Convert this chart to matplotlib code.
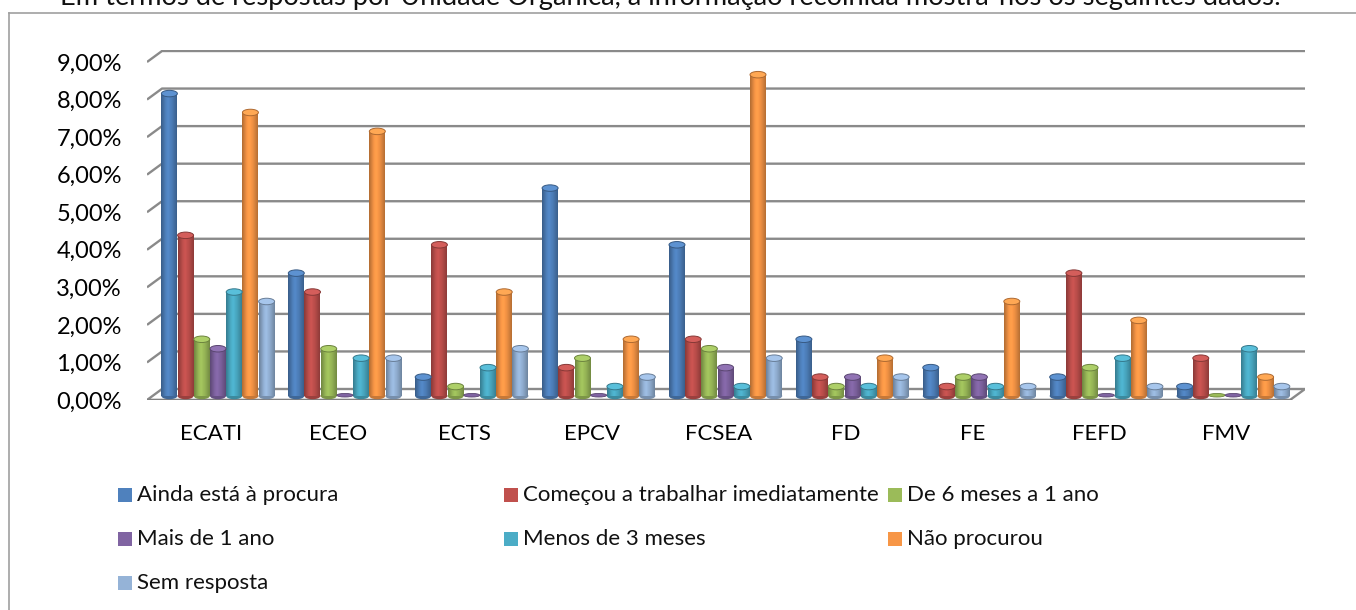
import numpy as np
import matplotlib
matplotlib.use("Agg")
import matplotlib.pyplot as plt
from matplotlib.patches import Ellipse, Rectangle, Polygon
from matplotlib.lines import Line2D
from matplotlib.colors import to_rgb

# =========================
# DATA (percent of answers)
# =========================
categories = ["ECATI", "ECEO", "ECTS", "EPCV", "FCSEA", "FD", "FE", "FEFD", "FMV"]
series_names = ["Ainda está à procura", "Começou a trabalhar imediatamente",
                "De 6 meses a 1 ano", "Mais de 1 ano", "Menos de 3 meses",
                "Não procurou", "Sem resposta"]
ainda = [8.0, 3.25, 0.5, 5.5, 4.0, 1.5, 0.75, 0.5, 0.25]
comecou = [4.25, 2.75, 4.0, 0.75, 1.5, 0.5, 0.25, 3.25, 1.0]
de6 = [1.5, 1.25, 0.25, 1.0, 1.25, 0.25, 0.5, 0.75, 0.0]
mais1 = [1.25, 0.0, 0.0, 0.0, 0.75, 0.5, 0.5, 0.0, 0.0]
menos3 = [2.75, 1.0, 0.75, 0.25, 0.25, 0.25, 0.25, 1.0, 1.25]
nao = [7.5, 7.0, 2.75, 1.5, 8.5, 1.0, 2.5, 2.0, 0.5]
sem = [2.5, 1.0, 1.25, 0.5, 1.0, 0.5, 0.25, 0.25, 0.25]
series = [ainda, comecou, de6, mais1, menos3, nao, sem]
colors = ["#4F81BD", "#C0504D", "#9BBB59", "#8064A2", "#4BACC6", "#F79646", "#95B3D7"]
ytick_values = list(range(10))
ytick_labels = [f"{k},00%" for k in ytick_values]

intro = ("Em termos de respostas por Unidade Orgânica, a informação recolhida "
         "mostra-nos os seguintes dados:")

plt.rcParams["font.family"] = ["Lato", "DejaVu Sans"]

W, H = 1356, 610
fig = plt.figure(figsize=(W / 100, H / 100), dpi=100)
fig.patch.set_facecolor("white")

# chart frame (extends past the crop on right/bottom)
fig.add_artist(Line2D([9 / W, 9 / W], [0, 1 - 13 / H], transform=fig.transFigure,
                      color="#a0a0a0", lw=1.2))
fig.add_artist(Line2D([9 / W, 1], [1 - 13 / H, 1 - 13 / H], transform=fig.transFigure,
                      color="#a0a0a0", lw=1.2))

# intro sentence, mostly cut off at the top - fit it to the width seen in the page
t_intro = fig.text(60 / W, 1 - 4.5 / H, intro, fontsize=18, va="baseline", ha="left",
                   color="#111111")
fig.canvas.draw()
w_now = t_intro.get_window_extent(fig.canvas.get_renderer()).width
t_intro.set_fontsize(18 * 1222 / w_now)

# =========================
# AXES
# =========================
ax = fig.add_axes([147 / W, 1 - 400 / H, (1305 - 147) / W, 350 / H])
xl, xr = -0.5595, 8.5658
ax.set_xlim(xl, xr)
ax.set_ylim(-0.106, 9.153)
for s in ax.spines.values():
    s.set_visible(False)

dx = 15 / 126.9   # depth offset in x (data units)
dy = 11 / 37.8    # depth offset in y (data units)


def front_v(k):
    return k * 0.9935 - 0.106


grid_col = "#8a8a8a"
for k in ytick_values[1:]:
    f = front_v(k)
    ax.plot([xl, xl + dx, xr], [f, f + dy, f + dy], color=grid_col, lw=1.7,
            solid_capstyle="butt", zorder=1)

# floor
f0 = front_v(0)
floor = Polygon([[xl, f0], [xr - dx, f0], [xr, f0 + dy], [xl + dx, f0 + dy]],
                closed=True, facecolor="white", edgecolor=grid_col, lw=1.7, zorder=1)
ax.add_patch(floor)
ax.plot([xl, xr - dx], [f0, f0], color="#7f7f7f", lw=2.4, zorder=1.1)

ax.set_yticks([front_v(k) for k in ytick_values])
ax.set_yticklabels(ytick_labels, fontsize=17)
ax.set_xticks(np.arange(len(categories)) - 0.055)
ax.set_xticklabels(categories, fontsize=16)
ax.tick_params(axis="y", length=0, pad=18)
ax.tick_params(axis="x", length=0, pad=17)

# =========================
# CYLINDER BARS
# =========================
n = len(series)
step = 0.1277
bw = 0.126
cap_h = 0.172
shade = np.interp(np.linspace(0, 1, 48), [0, 0.3, 0.45, 0.7, 1],
                  [0.72, 1.0, 1.07, 0.95, 0.74])
x = np.arange(len(categories))
for j, (vals, col) in enumerate(zip(series, colors)):
    rgb = np.array(to_rgb(col))
    xs = x + (j - (n - 1) / 2) * step
    bars = ax.bar(xs, vals, width=bw, color=col, edgecolor="none", zorder=3)
    grad = np.clip(np.outer(shade, rgb), 0, 1)[None, :, :]
    for xc, v, patch in zip(xs, vals, bars):
        if v > 0:
            ax.add_patch(Ellipse((xc, 0), bw, cap_h, facecolor=rgb * 0.8,
                                 edgecolor="none", zorder=2.9))
            im = ax.imshow(grad, extent=(xc - bw / 2, xc + bw / 2, 0, v),
                           aspect="auto", interpolation="bilinear", zorder=3.1)
            im.set_clip_path(patch)
            top = Ellipse((xc, v), bw, cap_h, facecolor=np.clip(rgb * 1.05 + 0.04, 0, 1),
                          edgecolor=rgb * 0.7, lw=0.7, zorder=4)
        else:
            top = Ellipse((xc, 0.02), bw, cap_h * 0.55, facecolor=rgb,
                          edgecolor=rgb * 0.7, lw=0.6, zorder=4)
        ax.add_patch(top)

ax.set_xlim(xl, xr)
ax.set_ylim(-0.106, 9.153)

# =========================
# LEGEND (3 columns, row-major like Excel)
# =========================
col_x = [118, 504, 888]
row_y = [495, 539, 583]
for i, (name, col) in enumerate(zip(series_names, colors)):
    r, c = divmod(i, 3)
    px, py = col_x[c], row_y[r]
    fig.add_artist(Rectangle((px / W, 1 - (py + 7) / H), 14 / W, 14 / H,
                             transform=fig.transFigure, facecolor=col, edgecolor="none"))
    fig.text((px + 19) / W, 1 - py / H, name, fontsize=16, va="center", ha="left",
             color="#111111")

fig.savefig("out.png", dpi=100)
